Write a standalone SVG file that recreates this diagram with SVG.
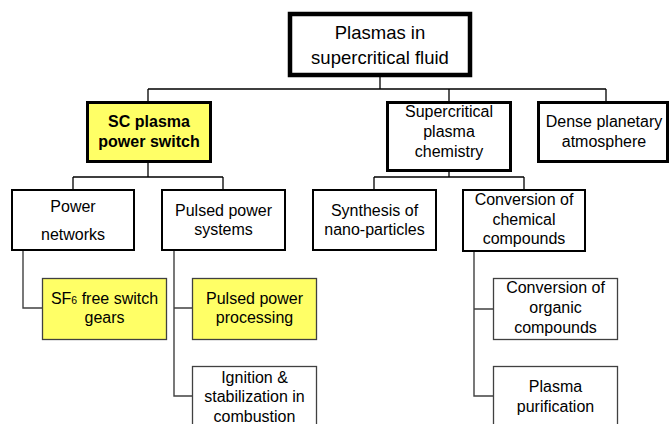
<svg xmlns="http://www.w3.org/2000/svg" width="671" height="424" viewBox="0 0 671 424">
<style>
text{font-family:"Liberation Sans",Arial,sans-serif;font-size:16px;fill:#000;text-anchor:middle}
.l1{fill:#fff;stroke:#000;stroke-width:4.5}
.l2{fill:#fff;stroke:#000;stroke-width:3}
.l3{fill:#fff;stroke:#000;stroke-width:2}
.l4{fill:#fff;stroke:#404040;stroke-width:1.3}
.y{fill:#ffff66}
.c{fill:none;stroke:#000;stroke-width:1.3}
.c4{fill:none;stroke:#404040;stroke-width:1.4}
</style>
<rect width="671" height="424" fill="#fff"/>
<g id="connectors">
<path class="c" d="M380 77V89M148 89H606M148 89V101M449 89V101M606 89V101"/>
<path class="c" d="M148 163V177M73 177H223M73 177V189M223 177V189"/>
<path class="c" d="M449 172V177M374 177H524M374 177V189M524 177V189"/>
<path class="c4" d="M23 251V308H42M174 251V396H192M174 308H192M474 252V396H493M474 309H493"/>
</g>
<g id="root"><rect class="l1" x="290" y="14" width="180" height="61"/>
<text x="380" y="39" style="font-size:18.5px">Plasmas in</text><text x="380" y="64" style="font-size:18.5px">supercritical fluid</text></g>
<g id="sc-switch"><rect class="l2 y" x="87.5" y="102.5" width="123" height="59"/>
<text x="149" y="127" font-weight="bold">SC plasma</text><text x="149" y="147" font-weight="bold">power switch</text></g>
<g id="sc-chemistry"><rect class="l2" x="387.5" y="102.5" width="123" height="68"/>
<text x="449" y="117">Supercritical</text><text x="449" y="137">plasma</text><text x="449" y="157">chemistry</text></g>
<g id="dense"><rect class="l2" x="538.5" y="102.5" width="129" height="59"/>
<text x="604" y="127">Dense planetary</text><text x="604" y="147">atmosphere</text></g>
<g id="power-networks"><rect class="l3" x="12" y="190" width="122" height="60"/>
<text x="73" y="212">Power</text><text x="73" y="240">networks</text></g>
<g id="pulsed-systems"><rect class="l3" x="162" y="190" width="123" height="60"/>
<text x="223.5" y="216">Pulsed power</text><text x="223.5" y="235">systems</text></g>
<g id="synthesis"><rect class="l3" x="313" y="190" width="123" height="60"/>
<text x="374.5" y="216">Synthesis of</text><text x="374.5" y="235">nano-particles</text></g>
<g id="conversion-chemical"><rect class="l3" x="463" y="190" width="122" height="61"/>
<text x="524" y="205">Conversion of</text><text x="524" y="225">chemical</text><text x="524" y="244">compounds</text></g>
<g id="sf6"><rect class="l4 y" x="42.5" y="278.5" width="124" height="61"/>
<text x="104.5" y="304">SF<tspan style="font-size:10.5px">6</tspan> free switch</text><text x="104.5" y="323">gears</text></g>
<g id="pulsed-processing"><rect class="l4 y" x="192.5" y="278.5" width="124" height="61"/>
<text x="254.5" y="304">Pulsed power</text><text x="254.5" y="323">processing</text></g>
<g id="ignition"><rect class="l4" x="192.5" y="366.5" width="124" height="70"/>
<text x="254.5" y="383">Ignition &amp;</text><text x="254.5" y="402">stabilization in</text><text x="254.5" y="422">combustion</text></g>
<g id="organic"><rect class="l4" x="493.5" y="278.5" width="124" height="61"/>
<text x="555.5" y="293">Conversion of</text><text x="555.5" y="313">organic</text><text x="555.5" y="333">compounds</text></g>
<g id="purification"><rect class="l4" x="493.5" y="366.5" width="124" height="70"/>
<text x="555.5" y="392">Plasma</text><text x="555.5" y="412">purification</text></g>
</svg>
